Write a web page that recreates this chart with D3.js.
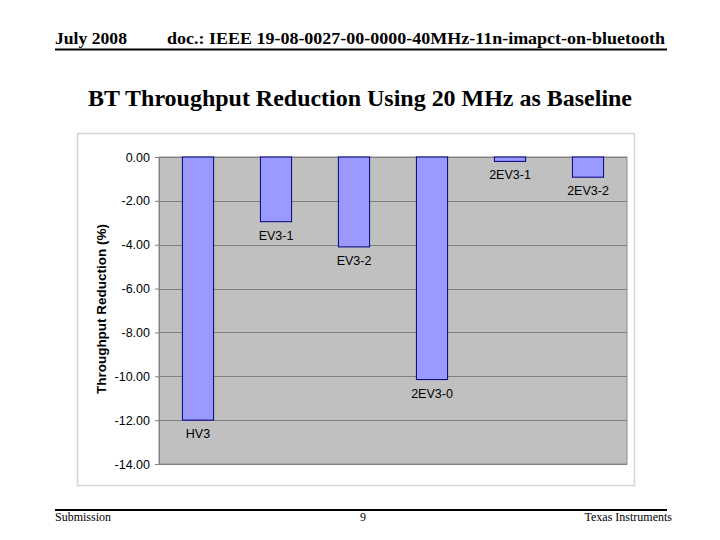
<!DOCTYPE html>
<html><head><meta charset="utf-8">
<script src="https://cdn.jsdelivr.net/npm/d3@7"></script>
<style>body{margin:0;background:#fff}svg{display:block}</style>
</head><body>
<svg id="c" width="720" height="540"></svg>
<script>
const categories = ["HV3","EV3-1","EV3-2","2EV3-0","2EV3-1","2EV3-2"];
const values = [-12.0,-2.95,-4.1,-10.15,-0.2,-0.92];
const yTicks = [0,-2,-4,-6,-8,-10,-12,-14];
const svg = d3.select("#c");
const times = "'Liberation Serif','Times New Roman',serif";
const arial = "'Liberation Sans',Arial,sans-serif";

// header
svg.append("text").attr("x",55).attr("y",44).attr("font-family",times).attr("font-weight","bold").attr("font-size",17.5)
  .attr("textLength",72).attr("lengthAdjust","spacingAndGlyphs").text("July 2008");
svg.append("text").attr("x",167).attr("y",44).attr("font-family",times).attr("font-weight","bold").attr("font-size",17.5)
  .attr("textLength",498).attr("lengthAdjust","spacingAndGlyphs").text("doc.: IEEE 19-08-0027-00-0000-40MHz-11n-imapct-on-bluetooth");
svg.append("line").attr("x1",55).attr("x2",667).attr("y1",49.5).attr("y2",49.5).attr("stroke","#000").attr("stroke-width",2);
// footer
svg.append("line").attr("x1",55).attr("x2",667).attr("y1",510).attr("y2",510).attr("stroke","#000").attr("stroke-width",2);
svg.append("text").attr("x",55).attr("y",521).attr("font-family",times).attr("font-size",12).text("Submission");
svg.append("text").attr("x",363).attr("y",521).attr("text-anchor","middle").attr("font-family",times).attr("font-size",12).text("9");
svg.append("text").attr("x",672).attr("y",521).attr("text-anchor","end").attr("font-family",times).attr("font-size",12).text("Texas Instruments");
// title
svg.append("text").attr("x",88).attr("y",106).attr("font-family",times).attr("font-weight","bold").attr("font-size",24)
  .attr("textLength",544).attr("lengthAdjust","spacingAndGlyphs").text("BT Throughput Reduction Using 20 MHz as Baseline");

// chart frame
svg.append("rect").attr("x",77.5).attr("y",133.5).attr("width",557).attr("height",352).attr("fill","#fff").attr("stroke","#d4d4d4").attr("stroke-width",1.5);

const L=159, R=627, T=157, B=464;
const x = d3.scaleBand().domain(categories).range([L,R]).paddingInner(0.6).paddingOuter(0.3);
const y = d3.scaleLinear().domain([0,-14]).range([T,B]);

svg.append("rect").attr("x",L).attr("y",T).attr("width",R-L).attr("height",B-T).attr("fill","#c0c0c0").attr("stroke","#8c8c8c").attr("stroke-width",1);
svg.append("g").selectAll("line").data(yTicks).join("line")
  .attr("x1",L).attr("x2",R).attr("y1",d=>Math.round(y(d))+0.5).attr("y2",d=>Math.round(y(d))+0.5)
  .attr("stroke","#808080").attr("stroke-width",1);

const fmt = d3.format(".2f");
const ax = svg.append("g").attr("transform",`translate(${L},0)`)
  .call(d3.axisLeft(y).tickValues(yTicks).tickFormat(d=>fmt(d).replace("\u2212","-")).tickSize(4).tickPadding(5));
ax.select(".domain").attr("stroke","#808080");
ax.selectAll(".tick line").attr("stroke","#808080");
ax.selectAll("text").attr("font-family",arial).attr("font-size",12.5).attr("fill","#000");

svg.append("g").selectAll("rect").data(values).join("rect")
  .attr("x",(d,i)=>x(categories[i])).attr("width",x.bandwidth())
  .attr("y",y(0)).attr("height",d=>y(d)-y(0))
  .attr("fill","#9999ff").attr("stroke","#000080").attr("stroke-width",1);

svg.append("g").selectAll("text").data(values).join("text")
  .attr("x",(d,i)=>x(categories[i])+x.bandwidth()/2).attr("y",d=>y(d)+18)
  .attr("text-anchor","middle").attr("font-family",arial).attr("font-size",12.5).text((d,i)=>categories[i]);

svg.append("text").attr("transform",`translate(106,309) rotate(-90)`).attr("text-anchor","middle")
  .attr("font-family",arial).attr("font-weight","bold").attr("font-size",13.5).text("Throughput Reduction (%)");
</script>
</body></html>
